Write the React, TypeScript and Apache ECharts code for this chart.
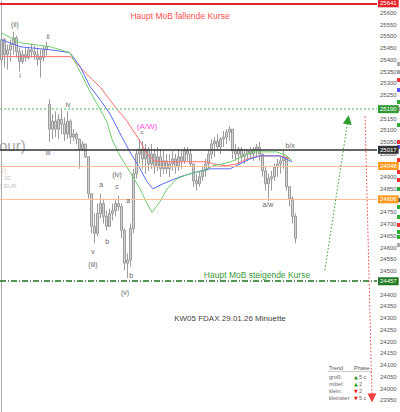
import React, { useEffect, useRef } from "react";
import * as echarts from "echarts";

// OHLC bars (minute bars, FDAX), prices
const barOpen = [25401,25486,25422,25443,25465,25494,25435,25393,25422,25410,25443,25435,25422,25401,25410,25443,
25211,25105,25139,25105,25147,25126,25084,25139,25071,25084,25063,25020,25042,24987,24830,24691,24661,24746,24788,24733,24691,24746,24758,24788,24775,24674,24534,24547,24682,24915,24999,25020,24978,25020,24957,24999,24944,24987,24936,24970,24936,24957,24978,24944,24987,24970,25012,24999,24957,24885,24872,24902,24927,24957,24999,25042,25054,25029,25063,25071,25092,25105,25012,24999,25020,24987,24999,25012,24999,25020,25029,24999,24927,24872,24894,24902,24944,24957,24970,24987,24860,24809,24733];
const barClose = [25486,25422,25443,25465,25494,25435,25393,25422,25410,25443,25435,25422,25401,25410,25443,25456,
25105,25139,25105,25147,25126,25084,25139,25071,25084,25063,25020,25042,24987,24830,24691,24661,24746,24788,24733,24691,24746,24758,24788,24775,24674,24534,24547,24682,24915,24999,25020,24978,25020,24957,24999,24944,24987,24936,24970,24936,24957,24978,24944,24987,24970,25012,24999,24957,24885,24872,24902,24927,24957,24999,25042,25054,25029,25063,25071,25092,25105,25012,24999,25020,24987,24999,25012,24999,25020,25029,24999,24927,24872,24894,24902,24944,24957,24970,24987,24860,24809,24733,24640];
const barLow = [25380,25367,25359,25393,25422,25410,25350,25384,25393,25401,25410,25401,25376,25325,25393,25418,
25050,25063,25071,25063,25084,25054,25063,25042,25054,25042,24936,25012,24982,24809,24661,24619,24648,24724,24703,24674,24691,24716,24733,24758,24640,24504,24471,24521,24661,24894,24957,24936,24915,24927,24936,24915,24927,24902,24915,24915,24902,24927,24915,24927,24936,24957,24970,24944,24860,24843,24860,24885,24902,24936,24978,24987,25012,24999,25029,25042,25054,24978,24970,24957,24970,24957,24970,24978,24970,24987,24970,24902,24843,24800,24843,24885,24902,24915,24936,24843,24775,24703,24619];
const barHigh = [25515,25494,25465,25486,25520,25503,25452,25443,25452,25456,25469,25460,25452,25443,25460,25477,
25232,25169,25181,25169,25190,25156,25181,25147,25105,25092,25063,25054,25042,24987,24830,24746,24788,24830,24809,24758,24767,24788,24809,24822,24788,24682,24576,24703,24936,25020,25063,25054,25042,25029,25042,25020,25029,25020,25012,24999,24999,25012,24999,25020,25012,25029,25029,25020,24957,24915,24927,24944,24978,25020,25063,25071,25084,25071,25097,25105,25118,25105,25042,25029,25029,25020,25020,25029,25029,25042,25050,24999,24944,24915,24927,24957,24978,24987,25012,24987,24860,24818,24746];

// Moving averages: [bar index, price]
const maRed = [[0,25414],[23,25414],[28.5,25338],[33,25283],[37.2,25211],[41.8,25139],[46.2,25054],[48.5,24999],[51,24970],[54,24966],[68.5,24966],[70.5,24957],[75,24949],[78.5,24957],[82,24978],[86.2,24991],[92.8,24991],[96.2,24978]];
const maBlue = [[0,25486],[6.2,25456],[16.2,25443],[22.8,25431],[26.2,25372],[29.5,25287],[32.8,25232],[36.2,25169],[40.5,25063],[42.8,25008],[46.2,24936],[48.5,24881],[50.5,24851],[53.8,24872],[59.5,24902],[65.2,24923],[69.5,24936],[76.2,24936],[79.5,24957],[82.8,24978],[86.2,24991],[92.8,24991],[96.8,24966]];
const maGreen = [[0,25515],[6.2,25473],[16.2,25456],[22.8,25431],[26.2,25350],[29.5,25266],[32.8,25190],[35.2,25135],[36.8,25063],[39.5,24991],[42.8,24923],[46.2,24851],[48.5,24788],[50.2,24750],[52.8,24796],[55.2,24851],[58.5,24894],[62.8,24915],[67.2,24927],[70.5,24949],[73.8,24957],[77.2,24970],[80.5,24991],[83.8,25008],[91.8,25008],[95.2,24991],[96.8,24970]];

// Horizontal levels
const levelValues = [25641, 25190, 25017, 24948, 24806, 24457];
const levelColors = ["#e3262b", "#8fd08f", "#333333", "#ffbf99", "#ffbf99", "#1f6e1f"];
const levelBoxColors = ["#e3262b", "#2f9a35", "#333333", "#ff9a1f", "#ff9a1f", "#1f7a24"];
const levelWidths = [2, 1.5, 1.5, 1, 1, 1.5];
const levelTypes: any[] = ["solid", [2, 2], "solid", "solid", "solid", [6, 2, 1, 2]];

// Wave labels
const waveText = ["(ii)", "i", "ii", "iv", "iii", "a", "(iv)", "c", "v", "(iii)", "b", "a", "b", "(v)", "(A/W)", "c", "b/x", "a/w"];
const waveX = [4.5, 6.2, 15.5, 22.2, 15.5, 33.2, 38.5, 38.5, 30.5, 30.5, 35.2, 42.2, 43.2, 41.2, 48.5, 46.8, 96.2, 88.8];
const waveY = [25549, 25334, 25498, 25211, 25004, 24868, 24910, 24860, 24585, 24530, 24627, 24800, 24483, 24411, 25118, 25092, 25037, 24784];

// Arrows: [startIndex, startPrice, endIndex, endPrice]
const arrowUp = [107.8, 24504, 115.5, 25145];
const arrowDown = [121.2, 25160, 123.5, 23960];

// Trend table
const trendRows = ["groß:", "mittel:", "klein:", "kleinster:"];
const trendDir = ["▲", "▲", "▼", "▼"];
const trendPhase = ["5 c", "2", "2", "5 c"];

const FONT = "Liberation Sans, Arial, sans-serif";

export default function App() {
  const ref = useRef<HTMLDivElement>(null);
  useEffect(() => {
    document.body.style.margin = "0";
    const chart = echarts.init(ref.current!, null, { renderer: "svg" });
    const bars = barOpen.map((o, i) => [i, o, barClose[i], barLow[i], barHigh[i]]);

    const graphic: any[] = [
      { type: "text", x: 180, y: 16, style: { text: "Haupt MoB fallende Kurse", fill: "#ff5050", font: `8.5px ${FONT}`, textAlign: "center", textVerticalAlign: "middle" } },
      { type: "text", x: 257, y: 275, style: { text: "Haupt MoB steigende Kurse", fill: "#3a9a3a", font: `8.5px ${FONT}`, textAlign: "center", textVerticalAlign: "middle" } },
      { type: "text", x: 230, y: 318, style: { text: "KW05 FDAX 29.01.26 Minuette", fill: "#444", font: `8px ${FONT}`, textAlign: "center", textVerticalAlign: "middle" } },
      { type: "text", x: -1, y: 145, style: { text: "our)", fill: "#a8a8a8", font: `15px ${FONT}`, textAlign: "left", textVerticalAlign: "middle" } },
      { type: "text", x: 0, y: 170, style: { text: "1)", fill: "#e8c8b8", font: `7px ${FONT}`, textAlign: "left", textVerticalAlign: "middle" } },
      { type: "text", x: 4, y: 178, style: { text: "20", fill: "#c4c4c4", font: `6px ${FONT}`, textAlign: "left", textVerticalAlign: "middle" } },
      { type: "text", x: -1, y: 186, style: { text: "0 EUR", fill: "#c4c4c4", font: `6px ${FONT}`, textAlign: "left", textVerticalAlign: "middle" } },
      { type: "text", x: 329, y: 368, style: { text: "Trend", fill: "#555", font: `5.5px ${FONT}`, textVerticalAlign: "middle" } },
      { type: "text", x: 354, y: 368, style: { text: "Phase", fill: "#555", font: `5.5px ${FONT}`, textVerticalAlign: "middle" } },
      { type: "line", shape: { x1: 328, y1: 371.5, x2: 372, y2: 371.5 }, style: { stroke: "#aaa", lineWidth: 0.6 } },
    ];
    trendRows.forEach((t, i) => {
      const y = 377 + i * 7;
      graphic.push({ type: "text", x: 329, y, style: { text: t, fill: "#666", font: `5.5px ${FONT}`, textVerticalAlign: "middle" } });
      graphic.push({ type: "text", x: 354, y, style: { text: trendDir[i], fill: i < 2 ? "#2a9a2a" : "#e02020", font: `5px DejaVu Sans`, textVerticalAlign: "middle" } });
      graphic.push({ type: "text", x: 359, y, style: { text: trendPhase[i], fill: "#666", font: `5.5px ${FONT}`, textVerticalAlign: "middle" } });
    });
    const sideMarks: [number, string][] = [[62, "#aaa"], [70, "#aaa"], [78, "#e33"], [88, "#55f"], [100, "#3a3"], [107, "#aaa"], [123, "#3a3"], [140, "#e33"], [145, "#55f"], [158, "#e33"], [170, "#e33"], [178, "#e33"], [187, "#3a3"], [198, "#555"], [205, "#3a3"], [215, "#3a3"], [223, "#e33"], [230, "#3a3"], [235, "#3a3"], [243, "#aaa"]];
    sideMarks.forEach(([y, c]) => graphic.push({ type: "rect", shape: { x: 397, y, width: 3, height: 4 }, style: { fill: c } }));

    const option: any = {
      animation: false,
      backgroundColor: "#fff",
      grid: { left: 0, right: 23, top: 1.2, bottom: -2.8 },
      xAxis: { type: "value", min: -0.5, max: 125.17, show: false },
      yAxis: {
        type: "value", position: "right", min: 23900, max: 25650, interval: 50,
        axisLine: { show: true, lineStyle: { color: "#aaa", width: 1 } },
        axisTick: { show: false },
        splitLine: { show: false },
        axisLabel: {
          fontSize: 6, color: "#555", margin: 3, showMinLabel: false, showMaxLabel: false, fontFamily: FONT,
          formatter: (v: number) => (levelValues.some((l) => Math.abs(l - v) < 12) ? "" : String(v)),
        },
      },
      series: [
        {
          type: "candlestick",
          data: bars,
          encode: { x: 0, y: [1, 2, 3, 4] },
          barWidth: 1.6,
          itemStyle: { color: "#d4d4d4", color0: "#d4d4d4", borderColor: "#9c9c9c", borderColor0: "#9c9c9c", borderWidth: 1 },
          markLine: {
            symbol: "none", silent: true, animation: false,
            data: levelValues.map((v, i) => ({
              yAxis: v,
              lineStyle: { color: levelColors[i], width: levelWidths[i], type: levelTypes[i] },
              label: { show: true, position: "end", formatter: String(v), color: "#fff", backgroundColor: levelBoxColors[i], fontSize: 6, fontFamily: FONT, padding: [1, 2, 1, 2], distance: 1 },
            })),
          },
        },
        { type: "line", data: maRed, showSymbol: false, lineStyle: { color: "#ff7070", width: 1 }, z: 3 },
        { type: "line", data: maBlue, showSymbol: false, lineStyle: { color: "#5a6cf0", width: 1 }, z: 3 },
        {
          type: "line", data: maGreen, showSymbol: false, lineStyle: { color: "#70cc70", width: 1 }, z: 3,
          markLine: {
            silent: true, animation: false, symbol: ["none", "triangle"], symbolSize: [9, 9], label: { show: false },
            data: [
              [{ coord: [arrowUp[0], arrowUp[1]], lineStyle: { color: "#2ea02e", type: [1.5, 2], width: 1 } }, { coord: [arrowUp[2], arrowUp[3]] }],
              [{ coord: [arrowDown[0], arrowDown[1]], lineStyle: { color: "#f04040", type: [1.5, 2], width: 1 } }, { coord: [arrowDown[2], arrowDown[3]] }],
            ],
          },
        },
      ],
    };
    chart.setOption(option);

    // wave labels, placed through the chart's own scales
    waveText.forEach((t, i) => {
      const [px, py] = chart.convertToPixel({ gridIndex: 0 }, [waveX[i], waveY[i]]) as number[];
      const isAW = t === "(A/W)";
      graphic.push({
        type: "text", x: px, y: py, z: 10,
        style: {
          text: t, fill: isAW ? "#ff55dd" : "#666",
          font: `${isAW ? 8 : i === 15 ? 6 : 7}px ${FONT}`,
          textAlign: "center", textVerticalAlign: "middle",
        },
      });
    });
    chart.setOption({ graphic });
    return () => chart.dispose();
  }, []);
  return <div ref={ref} style={{ width: 400, height: 412 }} />;
}
